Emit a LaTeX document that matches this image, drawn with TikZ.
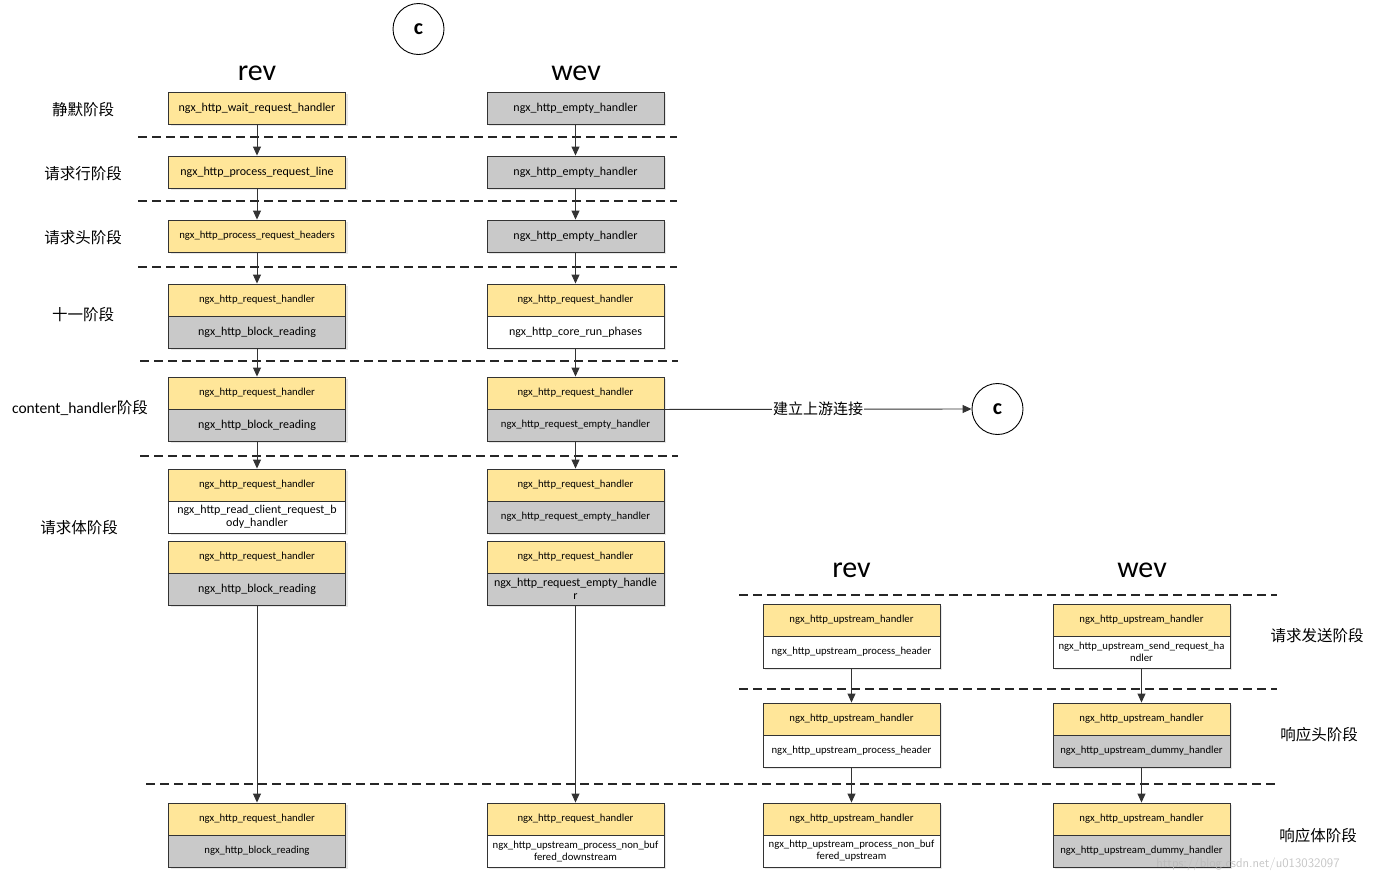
\documentclass[tikz,border=0pt]{standalone}
\usepackage{fontspec}
\setmainfont{Carlito}
\newfontfamily\cjk{Noto Sans CJK SC}
\usetikzlibrary{arrows.meta,shadows}
\definecolor{yel}{HTML}{FFE699}
\definecolor{gry}{HTML}{C9C9C9}
\definecolor{linec}{HTML}{333333}
\newcommand{\fsA}{\fontsize{10.7}{12}\selectfont}
\newcommand{\fsB}{\fontsize{12}{12.5}\selectfont}
\tikzset{
  cell/.style={draw=linec, line width=0.9pt, minimum height=32pt, minimum width=177pt, inner sep=1pt, align=center,
    drop shadow={opacity=0.18, shadow xshift=2pt, shadow yshift=-2pt}},
  yc/.style={cell, fill=yel, font=\fsA},
  gc/.style={cell, fill=gry, font=\fsB},
  wc/.style={cell, fill=white, font=\fsB},
  conn/.style={draw=linec, line width=0.9pt, -{Triangle[length=9pt,width=8pt]}},
  sep/.style={draw=black!85, line width=1.3pt, dash pattern=on 9pt off 5pt},
  phase/.style={font=\cjk\fontsize{15.5}{17}\selectfont, inner sep=0pt},
  head/.style={font=\fontsize{30}{30}\selectfont, inner sep=0pt},
  circ/.style={circle, draw=black, line width=0.9pt, minimum size=51pt, inner sep=0pt, font=\bfseries\fontsize{22}{22}\selectfont}
}
\begin{document}
\begin{tikzpicture}[x=1pt,y=-1pt]
\useasboundingbox (0,0) rectangle (1374,876);

% separators
\draw[sep] (138,137) -- (677,137);
\draw[sep] (138,201) -- (677,201);
\draw[sep] (138,267) -- (677,267);
\draw[sep] (140,361) -- (678,361);
\draw[sep] (140,456) -- (678,456);
\draw[sep] (739,595) -- (1277,595);
\draw[sep] (739,689) -- (1277,689);
\draw[sep] (146,784) -- (1277,784);

% headers
\node[head] (hrev) at (257,73) {rev};
\node[head] (hwev) at (576,73) {wev};
\node[head] (hrev2) at (851.5,570) {rev};
\node[head] (hwev2) at (1142,570) {wev};
\node[circ] (c1) at (418.5,29) {c};
\node[circ] (c2) at (997.5,409) {c};

% phase labels
\node[phase] (p1) at (83,110) {静默阶段};
\node[phase] (p2) at (83,174) {请求行阶段};
\node[phase] (p3) at (83,238) {请求头阶段};
\node[phase] (p4) at (83,315) {十一阶段};
\node[phase] (p5) at (80,408) {{\rmfamily content\_handler}阶段};
\node[phase] (p6) at (79,528) {请求体阶段};
\node[phase] (p7) at (1317,636) {请求发送阶段};
\node[phase] (p8) at (1319,735) {响应头阶段};
\node[phase] (p9) at (1318,836) {响应体阶段};

% left (rev) column
\begin{scope}[every node/.append style={minimum width=178pt}]
\node[yc, font=\fsB] (L1) at (257,108) {ngx\_http\_wait\_request\_handler};
\node[yc, font=\fsB] (L2) at (257,172) {ngx\_http\_process\_request\_line};
\node[yc] (L3) at (257,236) {ngx\_http\_process\_request\_headers};
\node[yc] (L4a) at (257,300) {ngx\_http\_request\_handler};
\node[gc] (L4b) at (257,332) {ngx\_http\_block\_reading};
\node[yc] (L5a) at (257,393) {ngx\_http\_request\_handler};
\node[gc] (L5b) at (257,425) {ngx\_http\_block\_reading};
\node[yc] (L6a) at (257,485) {ngx\_http\_request\_handler};
\node[wc] (L6b) at (257,517) {ngx\_http\_read\_client\_request\_b\\ody\_handler};
\node[yc] (L7a) at (257,557) {ngx\_http\_request\_handler};
\node[gc] (L7b) at (257,589) {ngx\_http\_block\_reading};
\node[yc] (L8a) at (257,819) {ngx\_http\_request\_handler};
\node[gc, font=\fsA] (L8b) at (257,851) {ngx\_http\_block\_reading};
\end{scope}

% wev column
\node[gc] (W1) at (575.5,108) {ngx\_http\_empty\_handler};
\node[gc] (W2) at (575.5,172) {ngx\_http\_empty\_handler};
\node[gc] (W3) at (575.5,236) {ngx\_http\_empty\_handler};
\node[yc] (W4a) at (575.5,300) {ngx\_http\_request\_handler};
\node[wc] (W4b) at (575.5,332) {ngx\_http\_core\_run\_phases};
\node[yc] (W5a) at (575.5,393) {ngx\_http\_request\_handler};
\node[gc, font=\fsA] (W5b) at (575.5,425) {ngx\_http\_request\_empty\_handler};
\node[yc] (W6a) at (575.5,485) {ngx\_http\_request\_handler};
\node[gc, font=\fsA] (W6b) at (575.5,517) {ngx\_http\_request\_empty\_handler};
\node[yc] (W7a) at (575.5,557) {ngx\_http\_request\_handler};
\node[gc, font=\fsB] (W7b) at (575.5,589) {ngx\_http\_request\_empty\_handle\\r};
\node[yc] (W8a) at (575.5,819) {ngx\_http\_request\_handler};
\node[wc, font=\fsA] (W8b) at (575.5,851) {ngx\_http\_upstream\_process\_non\_buf\\fered\_downstream};

% lower right rev
\node[yc] (R1a) at (851.5,620) {ngx\_http\_upstream\_handler};
\node[wc, font=\fsA] (R1b) at (851.5,652) {ngx\_http\_upstream\_process\_header};
\node[yc] (R2a) at (851.5,719) {ngx\_http\_upstream\_handler};
\node[wc, font=\fsA] (R2b) at (851.5,751) {ngx\_http\_upstream\_process\_header};
\node[yc] (R3a) at (851.5,819) {ngx\_http\_upstream\_handler};
\node[wc, font=\fsA] (R3b) at (851.5,851) {ngx\_http\_upstream\_process\_non\_buf\\fered\_upstream};

% lower right wev
\node[yc] (V1a) at (1141.5,620) {ngx\_http\_upstream\_handler};
\node[wc, font=\fsA] (V1b) at (1141.5,652) {ngx\_http\_upstream\_send\_request\_ha\\ndler};
\node[yc] (V2a) at (1141.5,719) {ngx\_http\_upstream\_handler};
\node[gc, font=\fsA] (V2b) at (1141.5,751) {ngx\_http\_upstream\_dummy\_handler};
\node[yc] (V3a) at (1141.5,819) {ngx\_http\_upstream\_handler};
\node[gc, font=\fsA] (V3b) at (1141.5,851) {ngx\_http\_upstream\_dummy\_handler};

% connectors
\draw[conn] (L1) -- (L2);
\draw[conn] (L2) -- (L3);
\draw[conn] (L3) -- (L4a);
\draw[conn] (L4b) -- (L5a);
\draw[conn] (L5b) -- (L6a);
\draw[conn] (L7b) -- (L8a);
\draw[conn] (W1) -- (W2);
\draw[conn] (W2) -- (W3);
\draw[conn] (W3) -- (W4a);
\draw[conn] (W4b) -- (W5a);
\draw[conn] (W5b) -- (W6a);
\draw[conn] (W7b) -- (W8a);
\draw[conn] (R1b) -- (R2a);
\draw[conn] (R2b) -- (R3a);
\draw[conn] (V1b) -- (V2a);
\draw[conn] (V2b) -- (V3a);
\draw[conn] (W5a.south east) -- node[fill=white, inner sep=1pt, font=\cjk\fontsize{15}{16}\selectfont] (lbl) {建立上游连接} (c2.west);

% watermark
\node[text=black!28, opacity=0.8, inner sep=0pt, font=\fontsize{13}{13}\selectfont\sffamily] (wm) at (1248,864) {https://blog.csdn.net/u013032097};
\end{tikzpicture}
\end{document}
